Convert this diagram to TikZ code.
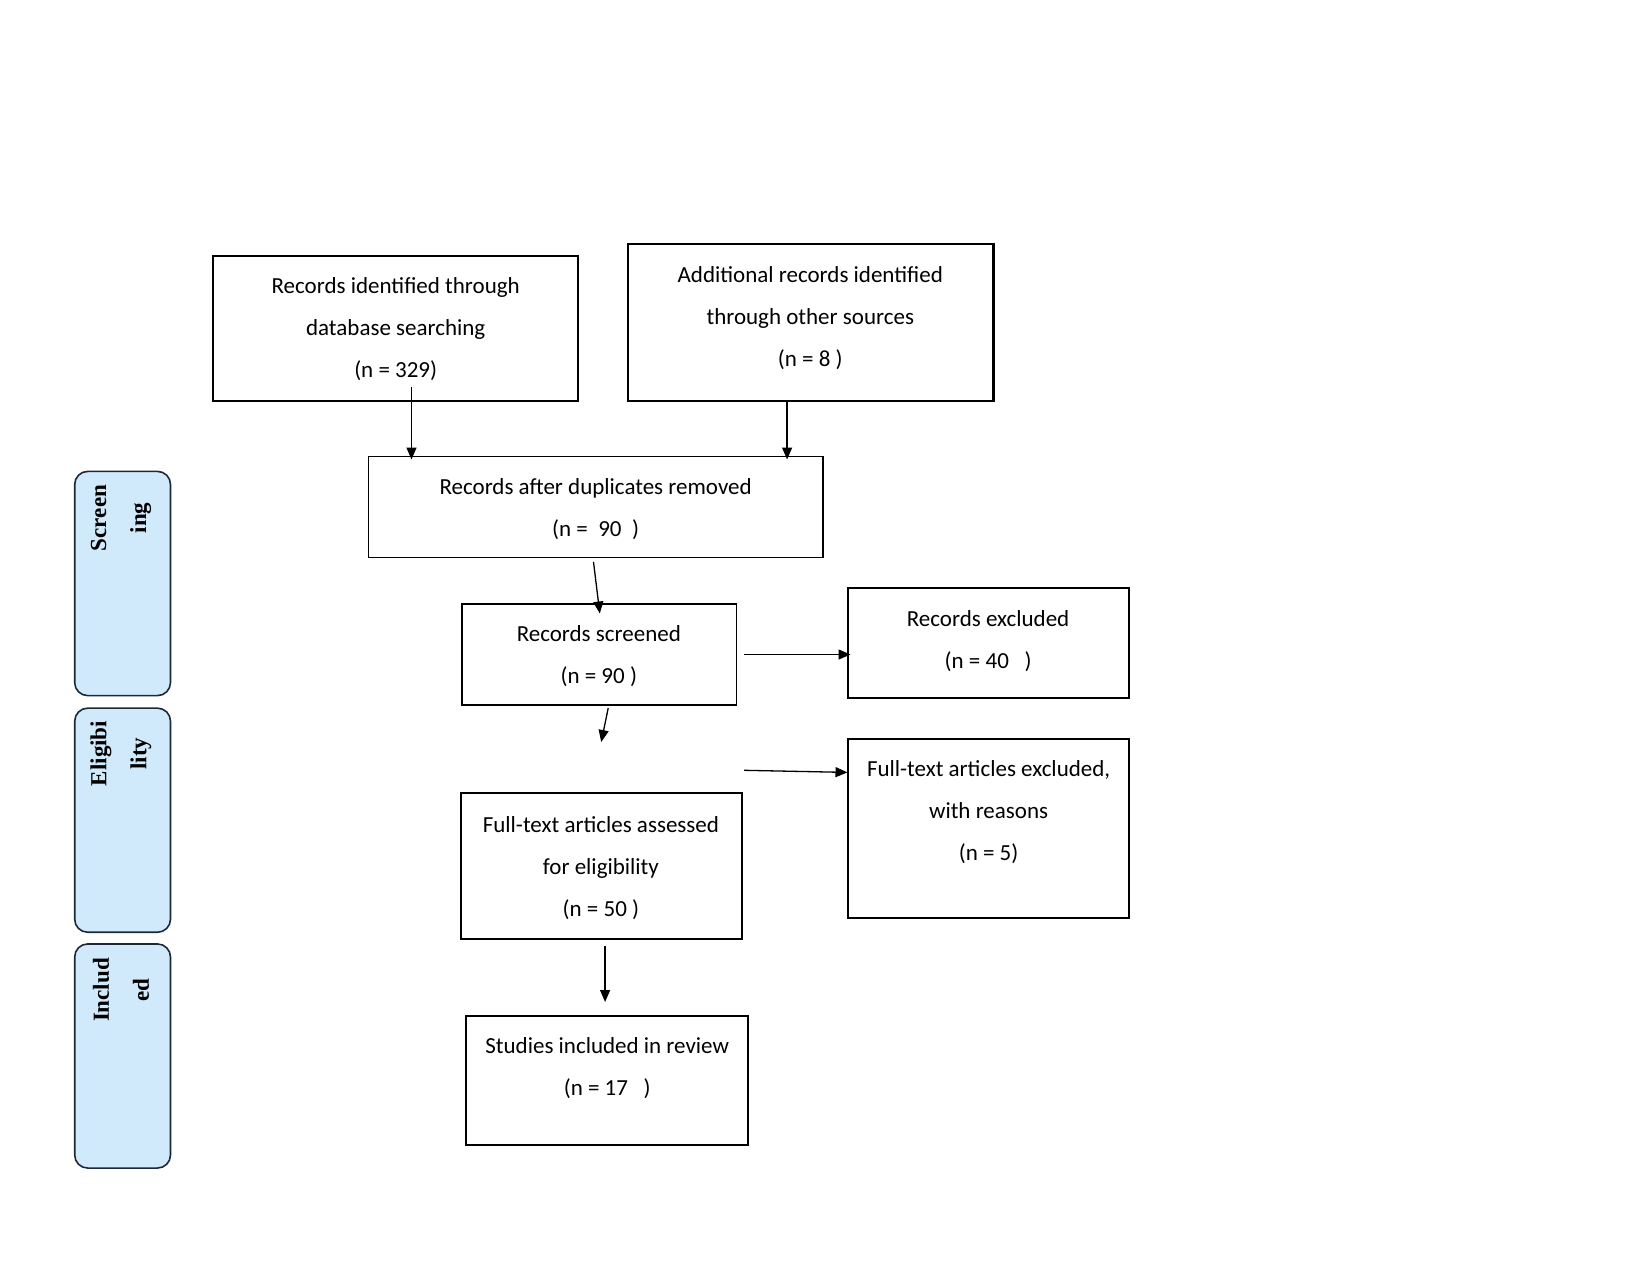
\documentclass[tikz,border=0pt]{standalone}
\usepackage{fontspec}
\setmainfont{Carlito}
\newfontfamily\sidefont{Liberation Serif}
\usetikzlibrary{arrows.meta}
\definecolor{sideblue}{RGB}{208,234,252}
\definecolor{sideline}{RGB}{30,40,55}
\tikzset{
  box/.style={draw=black, line width=1.8pt, rectangle, inner sep=0pt},
  txt/.style={align=center, font=\fontsize{23}{42}\selectfont, inner sep=0pt},
  side/.style={draw=sideline, fill=sideblue, line width=1.6pt, rounded corners=13pt, rectangle, inner sep=0pt, minimum width=95.8pt},
  sidetxt/.style={align=center, rotate=90, font=\sidefont\bfseries\fontsize{23}{40}\selectfont, inner sep=0pt},
  arr/.style={-{Triangle[length=12pt,width=10pt]}, line width=1.3pt}
}
\begin{document}
\begin{tikzpicture}[x=1pt,y=-1pt]
\useasboundingbox (0,0) rectangle (1650,1275);
% side boxes
\node[side, minimum height=224.2pt] (S1) at (122.6,583.5) {};
\node[side, minimum height=224.1pt] (S2) at (122.6,820.2) {};
\node[side, minimum height=224.1pt] (S3) at (122.6,1056.0) {};
\node[sidetxt] (S1t) at (121,518) {Screen\\ing};
\node[sidetxt] (S2t) at (121,753.5) {Eligibi\\lity};
\node[sidetxt] (S3t) at (121,990) {Includ\\ed};
% boxes
\node[box, minimum width=365.1pt, minimum height=145.2pt] (A) at (395.2,328.3) {};
\node[txt] (At) at (395.7,329.3) {Records identified through\\database searching\\(n = 329)};
\node[box, line width=2.2pt, minimum width=365.2pt, minimum height=156.8pt] (B) at (810.8,322.5) {};
\node[txt] (Bt) at (810.3,317.7) {Additional records identified\\through other sources\\(n = 8 )};
\node[box, line width=1.3pt, minimum width=454.6pt, minimum height=101pt] (C) at (595.6,507.2) {};
\node[txt] (Ct) at (595.6,509.2) {Records after duplicates removed\\(n =\ \ 90\ \ )};
\node[box, line width=1.3pt, minimum width=274.6pt, minimum height=101pt] (D) at (599.3,654.5) {};
\node[txt] (Dt) at (598.8,656.5) {Records screened\\(n = 90 )};
\node[box, line width=1.6pt, minimum width=280.9pt, minimum height=109.5pt] (E) at (988.6,643) {};
\node[txt] (Et) at (988.1,640.7) {Records excluded\\(n = 40\ \ \ )};
\node[box, minimum width=280.9pt, minimum height=178.9pt] (F) at (988.6,828.2) {};
\node[txt] (Ft) at (988.6,812.3) {Full-text articles excluded,\\with reasons\\(n = 5)};
\node[box, line width=2pt, minimum width=281pt, minimum height=145.3pt] (G) at (601.4,866) {};
\node[txt] (Gt) at (600.9,868) {Full-text articles assessed\\for eligibility\\(n = 50 )};
\node[box, line width=2pt, minimum width=282pt, minimum height=129.4pt] (H) at (607.2,1080.2) {};
\node[txt] (Ht) at (607.2,1068) {Studies included in review\\(n = 17\ \ \ )};
% connector coordinates
\coordinate (a1) at (411.5,387.2);
\coordinate (a2) at (411.5,459.5);
\coordinate (b1) at (787.1,401);
\coordinate (b2) at (787.1,459.5);
\coordinate (c1) at (593.5,561.9);
\coordinate (c2) at (599.8,613.5);
\coordinate (d1) at (608.2,708.2);
\coordinate (d2) at (601.2,742);
\coordinate (e1) at (744,654.5);
\coordinate (e2) at (850.5,654.5);
\coordinate (f1) at (744,770.3);
\coordinate (f2) at (847.5,772.4);
\coordinate (g1) at (605.1,946);
\coordinate (g2) at (605.1,1002);
\draw[arr] (a1) -- (a2);
\draw[arr] (b1) -- (b2);
\draw[arr] (c1) -- (c2);
\draw[arr] (d1) -- (d2);
\draw[arr] (e1) -- (e2);
\draw[arr] (f1) -- (f2);
\draw[arr] (g1) -- (g2);
\end{tikzpicture}
\end{document}
